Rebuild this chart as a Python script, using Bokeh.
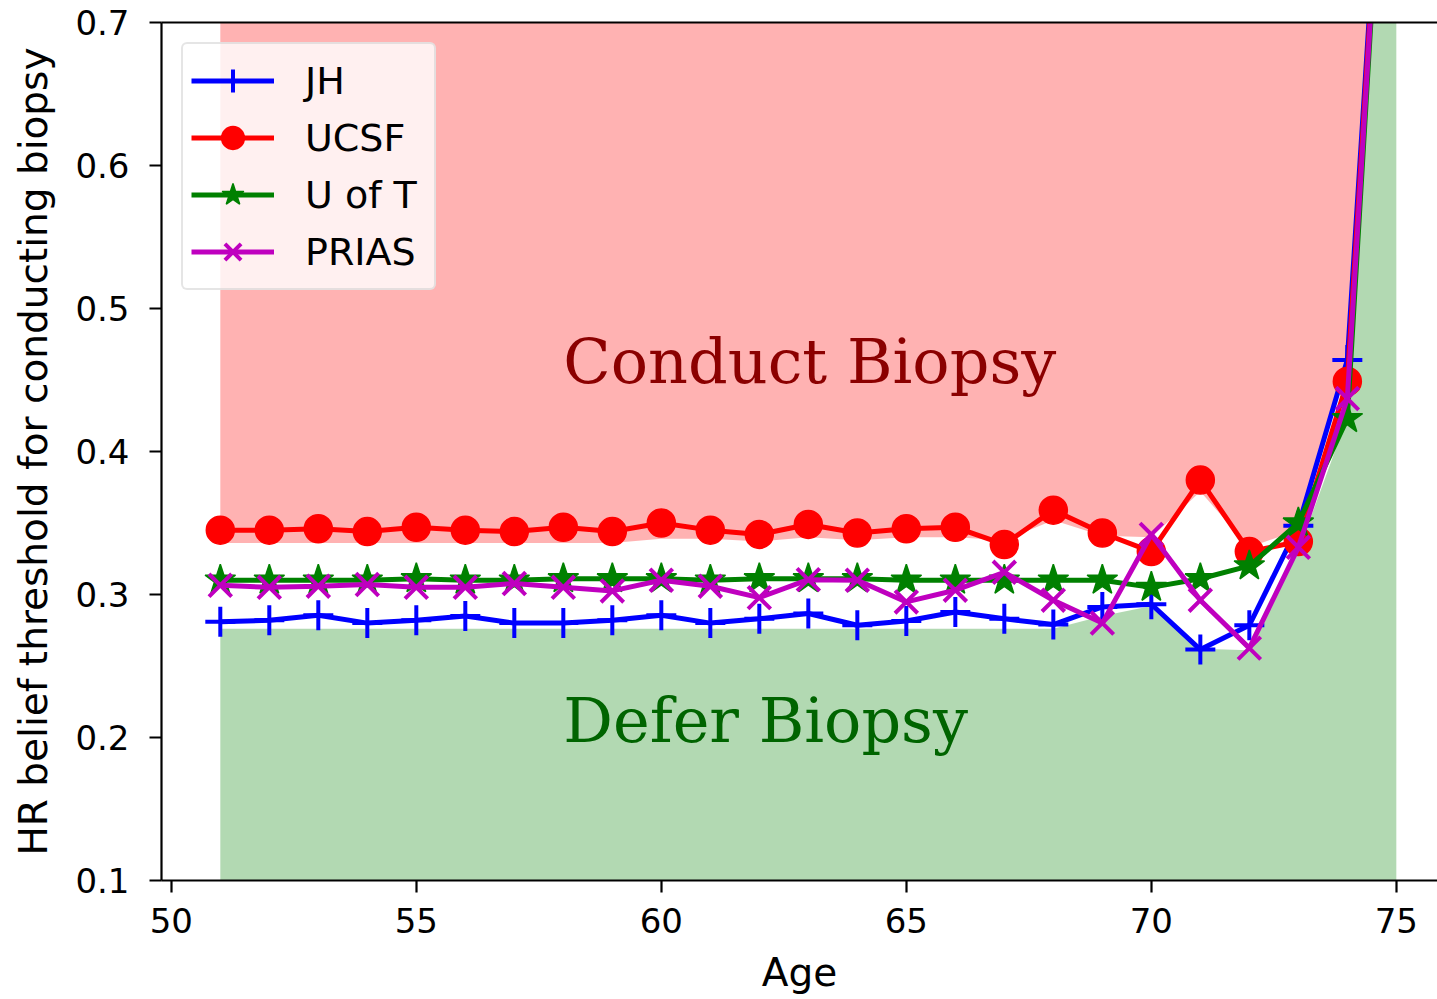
from bokeh.plotting import figure
from bokeh.models import Range1d, FixedTicker, LinearAxis, Label, Legend
from bokeh.embed import file_html
from bokeh.resources import INLINE

# ---------------- data ----------------
ages = [51, 52, 53, 54, 55, 56, 57, 58, 59, 60, 61, 62, 63, 64, 65, 66, 67, 68, 69, 70, 71, 72, 73, 74, 75]

jh = [0.281, 0.282, 0.2855, 0.280, 0.282, 0.285, 0.280, 0.280, 0.282, 0.2855, 0.280, 0.283, 0.2867, 0.2785, 0.2815,
      0.2878, 0.283, 0.279, 0.2913, 0.2932, 0.2615, 0.2785, 0.348, 0.464, 1.0]
ucsf = [0.345, 0.345, 0.346, 0.344, 0.347, 0.345, 0.344, 0.347, 0.344, 0.350, 0.345, 0.342, 0.349, 0.343, 0.346,
        0.347, 0.335, 0.359, 0.343, 0.330, 0.380, 0.330, 0.337, 0.449, 1.0]
uoft = [0.310, 0.310, 0.310, 0.310, 0.311, 0.310, 0.310, 0.311, 0.311, 0.311, 0.310, 0.311, 0.311, 0.311, 0.310,
        0.310, 0.310, 0.310, 0.310, 0.305, 0.311, 0.320, 0.350, 0.423, 1.0]
prias = [0.3064, 0.305, 0.3058, 0.307, 0.305, 0.305, 0.3077, 0.305, 0.3025, 0.310, 0.3058, 0.2978, 0.3104, 0.310,
         0.2948, 0.303, 0.3155, 0.296, 0.280, 0.342, 0.296, 0.2625, 0.333, 0.437, 1.0]

# boundaries of the shaded decision regions
conduct_lower = [0.336, 0.336, 0.336, 0.336, 0.336, 0.336, 0.336, 0.336, 0.336, 0.339, 0.339, 0.337, 0.340, 0.338,
                 0.340, 0.340, 0.338, 0.352, 0.341, 0.340, 0.372, 0.333, 0.345, 0.460, 1.0]
defer_upper = [0.276, 0.276, 0.276, 0.276, 0.276, 0.276, 0.276, 0.276, 0.276, 0.276, 0.276, 0.276, 0.276, 0.276,
               0.276, 0.276, 0.276, 0.276, 0.285, 0.292, 0.262, 0.261, 0.330, 0.424, 1.0]
fill_floor = 0.0
fill_ceiling = 1.5

x_ticks = [50, 55, 60, 65, 70, 75]
y_ticks = [0.1, 0.2, 0.3, 0.4, 0.5, 0.6, 0.7]

conduct_text = "Conduct Biopsy"
defer_text = "Defer Biopsy"
conduct_pos = (58, 0.463)
defer_pos = (58, 0.212)

series = [
    ("JH", jh, "#0000FF", "cross"),
    ("UCSF", ucsf, "#FF0000", "circle"),
    ("U of T", uoft, "#008000", "star"),
    ("PRIAS", prias, "#BF00BF", "x"),
]

# ---------------- figure ----------------
p = figure(width=1437, height=999, output_backend="svg", toolbar_location=None,
           x_range=Range1d(49.8, 75.84), y_range=Range1d(0.1, 0.7),
           min_border_left=161, min_border_right=0, min_border_top=22, min_border_bottom=119,
           background_fill_color="white", border_fill_color="white")
p.outline_line_color = None
p.grid.visible = False

# shaded regions
p.varea(x=ages, y1=[fill_floor] * len(ages), y2=defer_upper, fill_color="#008000", fill_alpha=0.3)
p.varea(x=ages, y1=conduct_lower, y2=[fill_ceiling] * len(ages), fill_color="#FF0000", fill_alpha=0.3)

sizes = {"cross": 30, "circle": 28, "star": 32, "x": 32}
for name, vals, col, mk in series:
    p.line(ages, vals, line_color=col, line_width=5, legend_label=name)
    if mk in ("cross", "x"):
        p.scatter(ages, vals, marker=mk, size=sizes[mk], line_color=col, line_width=4, legend_label=name)
    else:
        p.scatter(ages, vals, marker=mk, size=sizes[mk], fill_color=col, line_color=col, line_width=1.5,
                  legend_label=name)

# annotations
p.add_layout(Label(x=conduct_pos[0], y=conduct_pos[1], text=conduct_text, text_font="DejaVu Serif",
                   text_font_size="62px", text_color="#8B0000", text_align="left", text_baseline="alphabetic"))
p.add_layout(Label(x=defer_pos[0], y=defer_pos[1], text=defer_text, text_font="DejaVu Serif",
                   text_font_size="62px", text_color="#006400", text_align="left", text_baseline="alphabetic"))

# axes
for ax in (p.xaxis[0], p.yaxis[0]):
    ax.axis_line_width = 2.2
    ax.axis_line_color = "black"
    ax.major_tick_line_width = 2.2
    ax.major_tick_out = 12
    ax.major_tick_in = 0
    ax.minor_tick_line_color = None
    ax.major_label_text_font = "DejaVu Sans"
    ax.major_label_text_font_size = "34px"
    ax.major_label_text_color = "black"
    ax.axis_label_text_font = "DejaVu Sans"
    ax.axis_label_text_font_size = "39px"
    ax.axis_label_text_font_style = "normal"
    ax.axis_label_text_color = "black"

p.xaxis[0].ticker = FixedTicker(ticks=x_ticks)
p.yaxis[0].ticker = FixedTicker(ticks=y_ticks)
p.xaxis[0].axis_label = "Age"
p.yaxis[0].axis_label = "HR belief threshold for conducting biopsy"
p.xaxis[0].major_label_standoff = 15
p.xaxis[0].axis_label_standoff = 14
p.yaxis[0].major_label_standoff = 20
p.yaxis[0].axis_label_standoff = 16

top = LinearAxis(ticker=FixedTicker(ticks=[]), axis_line_width=2.2, axis_line_color="black",
                 major_tick_line_color=None, minor_tick_line_color=None, major_label_standoff=0)
p.add_layout(top, "above")

# legend
lg = p.legend[0]
lg.location = "top_left"
lg.margin = 20
lg.padding = 8
lg.spacing = 0
lg.glyph_width = 83
lg.glyph_height = 57
lg.label_height = 57
lg.label_standoff = 31
lg.label_width = 121
lg.label_text_font = "DejaVu Sans"
lg.label_text_font_size = "38px"
lg.label_text_color = "black"
lg.border_line_color = "#cccccc"
lg.border_line_width = 2
lg.background_fill_color = "white"
lg.background_fill_alpha = 0.8
if "border_radius" in Legend.properties():
    lg.border_radius = 6

open("out.html", "w").write(file_html(p, INLINE))
